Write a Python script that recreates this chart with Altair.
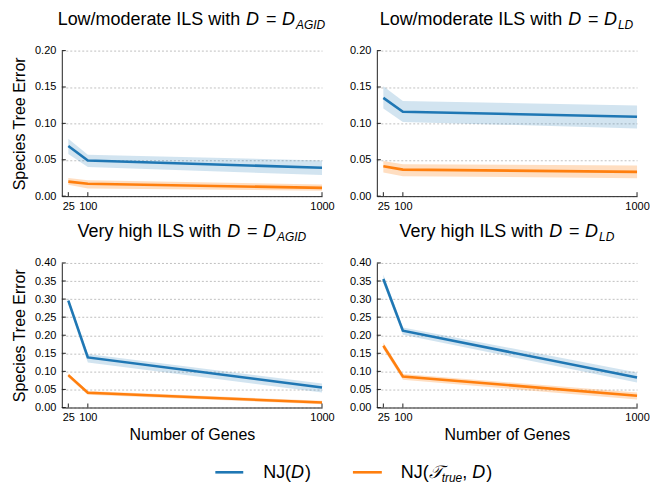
import altair as alt
import pandas as pd

# ---------------- data ----------------
genes = [25, 100, 1000]
methods = ["NJ(D)", "NJ(T_true, D)"]
palette = ["#1f77b4", "#ff7f0e"]
band_opacity = [0.2, 0.26]
yticks_low = [0.0, 0.05, 0.10, 0.15, 0.20]
yticks_high = [0.0, 0.05, 0.10, 0.15, 0.20, 0.25, 0.30, 0.35, 0.40]

# Panel A: Low/moderate ILS, D = D_AGID
a_nj = [0.069, 0.049, 0.039]
a_nj_lo = [0.058, 0.040, 0.029]
a_nj_hi = [0.079, 0.057, 0.049]
a_tr = [0.020, 0.017, 0.0114]
a_tr_lo = [0.0155, 0.0105, 0.0075]
a_tr_hi = [0.025, 0.022, 0.016]

# Panel B: Low/moderate ILS, D = D_LD
b_nj = [0.135, 0.116, 0.109]
b_nj_lo = [0.1205, 0.102, 0.093]
b_nj_hi = [0.151, 0.1306, 0.1247]
b_tr = [0.041, 0.0365, 0.0333]
b_tr_lo = [0.0324, 0.0274, 0.0247]
b_tr_hi = [0.0484, 0.0438, 0.042]

# Panel C: Very high ILS, D = D_AGID
c_nj = [0.2956, 0.1386, 0.0554]
c_nj_lo = [0.286, 0.1247, 0.0416]
c_nj_hi = [0.303, 0.148, 0.0665]
c_tr = [0.0896, 0.0406, 0.0139]
c_tr_lo = [0.083, 0.035, 0.0092]
c_tr_hi = [0.094, 0.046, 0.0185]

# Panel D: Very high ILS, D = D_LD
d_nj = [0.3557, 0.2125, 0.0831]
d_nj_lo = [0.3437, 0.2014, 0.0693]
d_nj_hi = [0.3677, 0.2217, 0.097]
d_tr = [0.1709, 0.0859, 0.0323]
d_tr_lo = [0.1617, 0.0767, 0.0222]
d_tr_hi = [0.18, 0.0924, 0.0416]

# ---------------- helpers ----------------
FONT = "Liberation Sans"
W = 261
FS = 18
ARIAL = {" ": 278, "(": 333, ")": 333, ",": 278, "/": 278, "=": 584,
         "A": 667, "D": 722, "E": 667, "G": 778, "I": 278, "J": 500, "L": 556,
         "N": 722, "S": 667, "T": 611, "V": 667, "a": 556, "c": 500, "d": 556,
         "e": 556, "g": 556, "h": 556, "i": 222, "l": 222, "m": 833, "n": 556,
         "o": 556, "r": 333, "s": 500, "t": 278, "u": 556, "w": 722, "y": 500}


def tw(s, size):
    return sum(ARIAL.get(ch, 556) for ch in s) * size / 1000.0


def txt(s, x, y, size=FS, style="normal", align="left"):
    return alt.Chart(pd.DataFrame({"t": [s]})).mark_text(
        align=align, baseline="alphabetic", font=FONT, fontSize=size,
        fontStyle=style, color="black"
    ).encode(x=alt.value(x), y=alt.value(y), text="t:N")


def title_layers(main, sub):
    mw = tw(main, FS)
    total = mw + 6 + 51 + tw(sub, 12)
    anchor = W / 2 - total / 2 + mw
    xd = anchor + 6
    yb = -26
    return [
        txt(main, anchor, yb, align="right"),
        txt("D", xd, yb, style="italic"),
        txt("=", xd + 20, yb),
        txt("D", xd + 36, yb, style="italic"),
        txt(sub, xd + 50, yb + 4, size=12, style="italic"),
    ]


def legend_layers(h):
    ly = h + 65
    ty = h + 71
    out = []
    for i, (x1, x2) in enumerate([(154, 182), (292, 321)]):
        out.append(
            alt.Chart(pd.DataFrame({"m": [methods[i]]})).mark_rule(strokeWidth=2.6, color=palette[i])
            .encode(x=alt.value(x1), x2=alt.value(x2), y=alt.value(ly))
        )
    # NJ(D)
    x = 202
    out.append(txt("NJ(", x, ty))
    x += tw("NJ(", FS)
    out.append(txt("D", x, ty, style="italic"))
    x += tw("D", FS) + 1
    out.append(txt(")", x, ty))
    # NJ(T_true, D)
    x = 340
    out.append(txt("NJ(", x, ty))
    x += tw("NJ(", FS)
    out.append(txt("\U0001D4AF", x, ty, style="italic"))
    x += 13
    out.append(txt("true", x, ty + 4, size=12, style="italic"))
    x += tw("true", 12)
    out.append(txt(",", x, ty))
    x += tw(", ", FS)
    out.append(txt("D", x, ty, style="italic"))
    x += tw("D", FS) + 1
    out.append(txt(")", x, ty))
    return out


def panel(nj, nj_lo, nj_hi, tr, tr_lo, tr_hi, yticks, h, main, sub, left, bottom, legend=False):
    df = pd.DataFrame({
        "genes": genes + genes,
        "method": [methods[0]] * 3 + [methods[1]] * 3,
        "err": nj + tr,
        "lo": nj_lo + tr_lo,
        "hi": nj_hi + tr_hi,
    })
    xscale = alt.Scale(domain=[0, 1000], nice=False, zero=False)
    yscale = alt.Scale(domain=[yticks[0], yticks[-1]], nice=False)
    xaxis = alt.Axis(values=genes, format="d", ticks=False, grid=False, labelPadding=4,
                     labelFlush=False, labelOverlap=False, titlePadding=4)
    yaxis = alt.Axis(values=yticks, format=".2f", ticks=False, grid=True, gridDash=[2, 2],
                     gridColor="#b0b0b0", gridWidth=0.8, labelPadding=6, titlePadding=7)
    xkw = {"title": "Number of Genes"} if bottom else {"title": None}
    ykw = {"title": "Species Tree Error"} if left else {"title": None}

    def X(f):
        return alt.X(f + ":Q", scale=xscale, axis=xaxis, **xkw)

    def Y(f):
        return alt.Y(f + ":Q", scale=yscale, axis=yaxis, **ykw)

    color = alt.Color("method:N", scale=alt.Scale(domain=methods, range=palette), legend=None)
    opac = alt.Opacity("method:N", scale=alt.Scale(domain=methods, range=band_opacity), legend=None)
    base = alt.Chart(df)
    band = base.mark_area().encode(x=X("genes"), y=Y("lo"), y2="hi:Q", color=color, opacity=opac)
    line = base.mark_line(strokeWidth=2.6).encode(x=X("genes"), y=Y("err"), color=color)
    ytk = alt.Chart(pd.DataFrame({"v": yticks})).mark_rule(color="#222", strokeWidth=1).encode(
        y=Y("v"), x=alt.value(0), x2=alt.value(4))
    xtk = alt.Chart(pd.DataFrame({"g": genes})).mark_rule(color="#222", strokeWidth=1).encode(
        x=X("g"), y=alt.value(h), y2=alt.value(h - 4))
    layers = [band, line, ytk, xtk] + title_layers(main, sub)
    if legend:
        layers += legend_layers(h)
    return alt.layer(*layers).properties(width=W, height=h)


pA = panel(a_nj, a_nj_lo, a_nj_hi, a_tr, a_tr_lo, a_tr_hi, yticks_low, 146,
           "Low/moderate ILS with", "AGID", True, False)
pB = panel(b_nj, b_nj_lo, b_nj_hi, b_tr, b_tr_lo, b_tr_hi, yticks_low, 146,
           "Low/moderate ILS with", "LD", False, False)
pC = panel(c_nj, c_nj_lo, c_nj_hi, c_tr, c_tr_lo, c_tr_hi, yticks_high, 145,
           "Very high ILS with", "AGID", True, True, legend=True)
pD = panel(d_nj, d_nj_lo, d_nj_hi, d_tr, d_tr_lo, d_tr_hi, yticks_high, 145,
           "Very high ILS with", "LD", False, True)

chart = alt.concat(
    pA, pB, pC, pD, columns=2, spacing={"row": 67, "column": 55}, bounds="flush"
).properties(
    padding={"left": 11, "top": 10, "right": 2, "bottom": 5}
).configure_view(
    stroke=None
).configure_axis(
    labelFont=FONT, labelFontSize=11, labelColor="black",
    titleFont=FONT, titleFontSize=16, titleFontWeight="normal", titleColor="black",
    domainColor="#222", domainWidth=1
)

chart.save("out.html", embed_options={"renderer": "svg", "actions": False})
